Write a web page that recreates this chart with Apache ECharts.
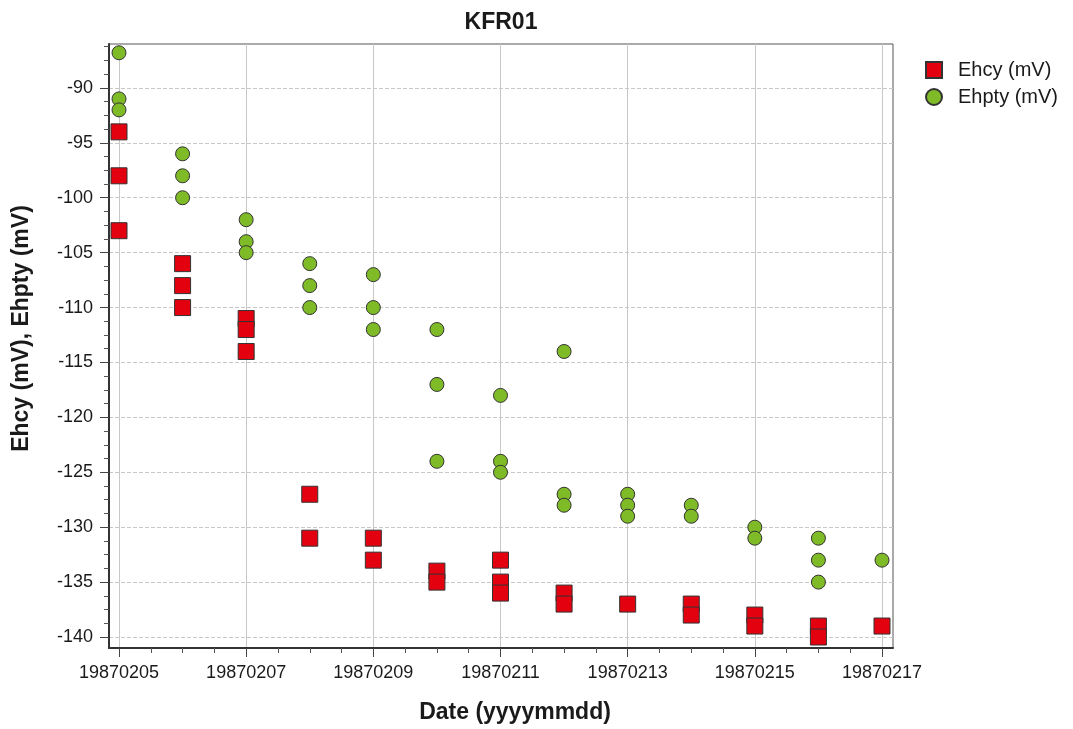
<!DOCTYPE html>
<html>
<head>
<meta charset="utf-8">
<script src="https://cdn.jsdelivr.net/npm/echarts@6/dist/echarts.min.js"></script>
<style>
  html, body { margin: 0; padding: 0; background: #fff; }
  #chart { width: 1073px; height: 729px; }
</style>
</head>
<body>
<div id="chart"></div>
<script>
// ---- data ----
const ehcyDates = [
  '19870205','19870205','19870205',
  '19870206','19870206','19870206',
  '19870207','19870207','19870207',
  '19870208','19870208',
  '19870209','19870209',
  '19870210','19870210',
  '19870211','19870211','19870211',
  '19870212','19870212',
  '19870213',
  '19870214','19870214',
  '19870215','19870215',
  '19870216','19870216',
  '19870217'
];
const ehcyValues = [
  -94, -98, -103,
  -106, -108, -110,
  -111, -112, -114,
  -127, -131,
  -131, -133,
  -134, -135,
  -133, -135, -136,
  -136, -137,
  -137,
  -137, -138,
  -138, -139,
  -139, -140,
  -139
];
const ehptyDates = [
  '19870205','19870205','19870205',
  '19870206','19870206','19870206',
  '19870207','19870207','19870207',
  '19870208','19870208','19870208',
  '19870209','19870209','19870209',
  '19870210','19870210','19870210',
  '19870211','19870211','19870211',
  '19870212','19870212','19870212',
  '19870213','19870213','19870213',
  '19870214','19870214',
  '19870215','19870215',
  '19870216','19870216','19870216',
  '19870217'
];
const ehptyValues = [
  -86.8, -91, -92,
  -96, -98, -100,
  -102, -104, -105,
  -106, -108, -110,
  -107, -110, -112,
  -112, -117, -124,
  -118, -124, -125,
  -114, -127, -128,
  -127, -128, -129,
  -128, -129,
  -130, -131,
  -131, -133, -135,
  -133
];
const xTickLabels = ['19870205','19870207','19870209','19870211','19870213','19870215','19870217'];
const seriesNames = ['Ehcy (mV)', 'Ehpty (mV)'];

// ---- helpers ----
const BASE = Date.UTC(1987, 1, 5);
function dayIndex(s) {
  const y = +s.slice(0, 4), m = +s.slice(4, 6), d = +s.slice(6, 8);
  return (Date.UTC(y, m - 1, d) - BASE) / 86400000;
}
function pairs(dates, vals) { return dates.map((d, i) => [dayIndex(d), vals[i]]); }

// ---- layout ----
const FONT = '"Liberation Sans", Arial, Helvetica, sans-serif';
const P = { left: 109, top: 44, width: 784, height: 604 };   // plot frame
const X0 = 119, X12 = 882;                                      // pixel of first/last labelled day
const pxPerDay = (X12 - X0) / 12;
const xMin = -(X0 - P.left) / pxPerDay;
const xMax = 12 + (P.left + P.width - X12) / pxPerDay;
const yMin = -141, yMax = -86;
const pxPerUnit = P.height / (yMax - yMin);
const yTop90 = P.top + (yMax - (-90)) * pxPerUnit;
const yTop85 = P.top + (yMax - (-85)) * pxPerUnit;

const hiddenAxis = (gi) => ({ gridIndex: gi, type: 'value', show: false });

const chart = echarts.init(document.getElementById('chart'), null, { renderer: 'canvas' });
chart.setOption({
  animation: false,
  backgroundColor: '#ffffff',
  textStyle: { fontFamily: FONT },
  title: {
    text: 'KFR01',
    left: 496, top: 6, textAlign: 'center',
    textStyle: { fontFamily: FONT, fontSize: 23, fontWeight: 'bold', color: '#1a1a1a' }
  },
  legend: {
    data: seriesNames,
    orient: 'vertical',
    left: 925, top: 60, padding: 0,
    itemWidth: 16, itemHeight: 16, itemGap: 7,
    textStyle: { fontFamily: FONT, fontSize: 20, color: '#1a1a1a', padding: [0, 0, 0, 11] }
  },
  grid: [
    { left: P.left, top: P.top, width: P.width, height: P.height, show: true, borderColor: '#555', borderWidth: 1, backgroundColor: 'transparent' },
    { left: X0, top: P.top, width: X12 - X0, height: P.height },
    { left: P.left, top: yTop90, width: P.width, height: 50 * pxPerUnit },
    { left: P.left, top: yTop85, width: P.width, height: 55 * pxPerUnit }
  ],
  xAxis: [
    { gridIndex: 0, type: 'value', min: xMin, max: xMax,
      axisLine: { show: true, onZero: false, lineStyle: { color: '#333', width: 2 } },
      axisTick: { show: false }, axisLabel: { show: false }, splitLine: { show: false } },
    { gridIndex: 1, type: 'value', min: 0, max: 12, interval: 2,
      name: 'Date (yyyymmdd)', nameLocation: 'middle', nameGap: 53,
      nameTextStyle: { fontFamily: FONT, fontSize: 23, fontWeight: 'bold', color: '#1a1a1a', padding: [0, 0, 0, 29] },
      axisLine: { show: false, onZero: false },
      axisTick: { show: true, length: 9, lineStyle: { color: '#444', width: 1 } },
      minorTick: { show: true, splitNumber: 4, length: 5, lineStyle: { color: '#555', width: 1 } },
      axisLabel: { show: true, margin: 16, fontFamily: FONT, fontSize: 18, color: '#1a1a1a',
        formatter: (v) => xTickLabels[Math.round(v / 2)] || '' },
      splitLine: { show: true, lineStyle: { color: '#c8c8c8', width: 1, type: 'solid' } } },
    hiddenAxis(2),
    hiddenAxis(3)
  ],
  yAxis: [
    { gridIndex: 0, type: 'value', min: yMin, max: yMax,
      name: 'Ehcy (mV), Ehpty (mV)', nameLocation: 'middle', nameGap: 76,
      nameTextStyle: { fontFamily: FONT, fontSize: 23, fontWeight: 'bold', color: '#1a1a1a', padding: [0, 0, 0, 35] },
      axisLine: { show: true, onZero: false, lineStyle: { color: '#333', width: 2 } },
      axisTick: { show: false }, axisLabel: { show: false }, splitLine: { show: false } },
    hiddenAxis(1),
    { gridIndex: 2, type: 'value', min: -140, max: -90, interval: 5,
      axisLine: { show: false, onZero: false },
      axisTick: { show: true, length: 9, lineStyle: { color: '#444', width: 1 } },
      axisLabel: { show: true, margin: 16, fontFamily: FONT, fontSize: 18, color: '#1a1a1a' },
      splitLine: { show: true, lineStyle: { color: '#c8c8c8', width: 1, type: [4, 2] } } },
    { gridIndex: 3, type: 'value', min: -140, max: -85, interval: 5,
      axisLine: { show: false, onZero: false },
      axisTick: { show: false }, axisLabel: { show: false }, splitLine: { show: false },
      minorTick: { show: true, splitNumber: 4, length: 5, lineStyle: { color: '#555', width: 1 } } }
  ],
  series: [
    { name: seriesNames[0], type: 'scatter', xAxisIndex: 0, yAxisIndex: 0, clip: false,
      symbol: 'rect', symbolSize: 16, z: 3,
      itemStyle: { color: '#e3000f', borderColor: '#333', borderWidth: 1, opacity: 1 },
      data: pairs(ehcyDates, ehcyValues) },
    { name: seriesNames[1], type: 'scatter', xAxisIndex: 0, yAxisIndex: 0, clip: false,
      symbol: 'circle', symbolSize: 14, z: 4,
      itemStyle: { color: '#7fba27', borderColor: '#333', borderWidth: 1, opacity: 1 },
      data: pairs(ehptyDates, ehptyValues) }
  ]
});
</script>
</body>
</html>
